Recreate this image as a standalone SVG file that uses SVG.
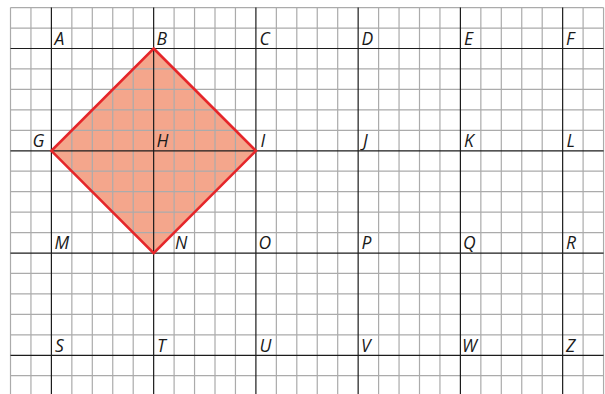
<svg xmlns="http://www.w3.org/2000/svg" width="605" height="394" viewBox="0 0 605 394">
<style>
.mn{stroke:#ababab;stroke-width:1.2;fill:none}
.mj{stroke:#1c1c1c;stroke-width:1.2;fill:none}
.lb{font-family:"Open Sans","Liberation Sans",sans-serif;font-style:italic;font-size:17.5px;fill:#1a1a1a}
</style>
<rect width="605" height="394" fill="#ffffff"/>
<g id="fill">
<polygon points="153.65,48.5 255.9,150.8 153.65,253.05 51.4,150.8" fill="#F4A68C"/>
</g>
<g id="grid-minor" class="mn">
<path d="M10.5,7.6V394M30.95,7.6V394M71.85,7.6V394M92.3,7.6V394M112.75,7.6V394M133.2,7.6V394M174.1,7.6V394M194.55,7.6V394M215,7.6V394M235.45,7.6V394M276.35,7.6V394M296.8,7.6V394M317.25,7.6V394M337.7,7.6V394M378.6,7.6V394M399.05,7.6V394M419.5,7.6V394M439.95,7.6V394M480.85,7.6V394M501.3,7.6V394M521.75,7.6V394M542.2,7.6V394M583.1,7.6V394M603.55,7.6V394"/>
<path d="M10.5,7.6H603.55M10.5,28.05H603.55M10.5,68.95H603.55M10.5,89.4H603.55M10.5,109.85H603.55M10.5,130.3H603.55M10.5,171.2H603.55M10.5,191.65H603.55M10.5,212.1H603.55M10.5,232.55H603.55M10.5,273.45H603.55M10.5,293.9H603.55M10.5,314.35H603.55M10.5,334.8H603.55M10.5,375.7H603.55"/>
</g>
<g id="grid-major" class="mj">
<path d="M51.4,7.6V394M153.65,7.6V394M255.9,7.6V394M358.15,7.6V394M460.4,7.6V394M562.65,7.6V394"/>
<path d="M10.5,48.5H603.55M10.5,150.8H603.55M10.5,253.05H603.55M10.5,355.3H603.55"/>
</g>
<g id="square">
<polygon points="153.65,48.5 255.9,150.8 153.65,253.05 51.4,150.8" fill="none" stroke="#E5262A" stroke-width="2.6" stroke-linejoin="miter"/>
</g>
<g id="labels" class="lb">
<text x="54.5" y="44.5">A</text>
<text x="156.5" y="44.5">B</text>
<text x="259.5" y="44.5">C</text>
<text x="361.5" y="44.5">D</text>
<text x="464" y="44.5">E</text>
<text x="566" y="44.5">F</text>
<text x="32.5" y="147">G</text>
<text x="156.5" y="147">H</text>
<text x="260.5" y="147">I</text>
<text x="363" y="147">J</text>
<text x="464" y="147">K</text>
<text x="566.5" y="147">L</text>
<text x="54.5" y="249">M</text>
<text x="175" y="249">N</text>
<text x="258.5" y="249">O</text>
<text x="361.5" y="249">P</text>
<text x="463" y="249">Q</text>
<text x="566" y="249">R</text>
<text x="55" y="351.5">S</text>
<text x="157" y="351.5">T</text>
<text x="259.5" y="351.5">U</text>
<text x="361" y="351.5">V</text>
<text x="462" y="351.5">W</text>
<text x="566" y="351.5">Z</text>
</g>
</svg>
